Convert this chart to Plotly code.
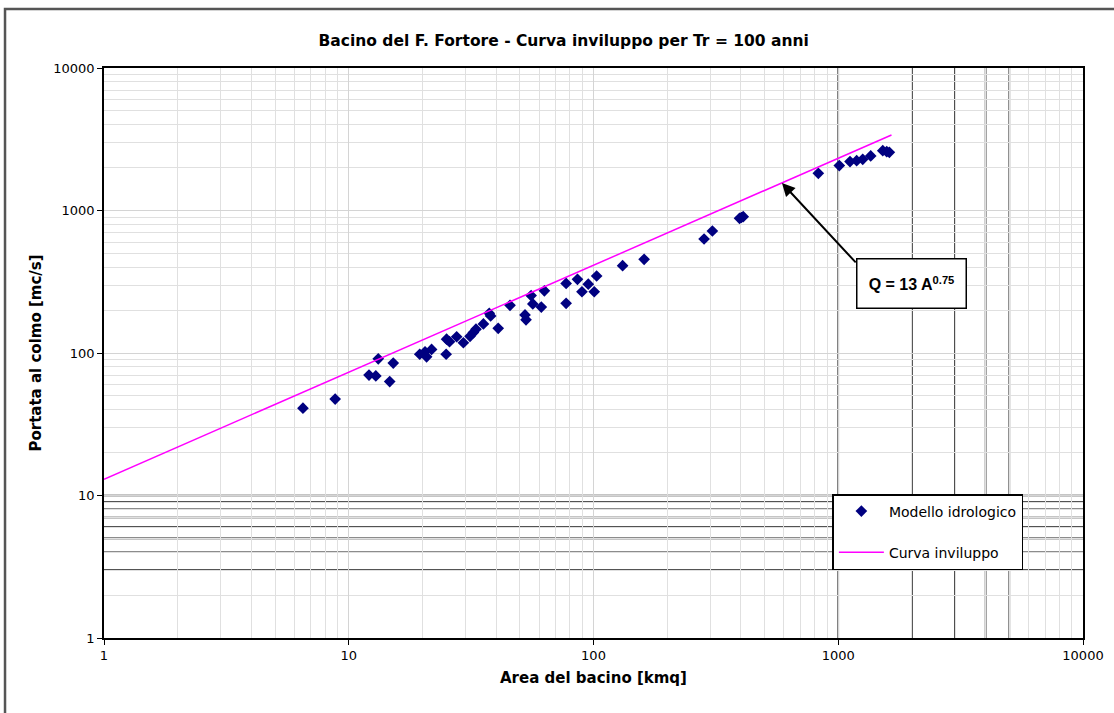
import plotly.graph_objects as go

# Catchment area [kmq] and peak discharge [mc/s]
area_kmq = [6.5, 8.8, 12.1, 12.9, 13.2, 14.7, 15.2, 19.5, 20.5, 20.8, 21.8, 25.0, 25.1,
            25.8, 27.6, 29.4, 31.3, 32.3, 33.1, 35.5, 37.5, 38.0, 40.8, 45.6, 52.5, 53.0,
            55.6, 56.5, 61.2, 63.0, 77.3, 77.3, 86.0, 89.7, 95.2, 100.7, 103.0, 131.5,
            161.0, 283.0, 306.0, 395.0, 402.0, 409.0, 829.0, 1010.0, 1117.0, 1189.0,
            1259.0, 1357.0, 1520.0, 1578.0, 1617.0]
portata_mcs = [41, 47.5, 70, 69, 91, 63, 85, 98, 102, 94, 106, 98, 125,
               120, 130, 118, 131, 139, 147, 160, 190, 182, 149, 216, 185, 171,
               253, 221, 210, 273, 308, 223, 329, 269, 304, 269, 347, 410,
               454, 631, 718, 881, 893, 905, 1824, 2065, 2203, 2238,
               2288, 2414, 2630, 2588, 2560]

# Envelope curve Q = 13 A^0.75 (end points)
curve_area = [1, 1650]
curve_q = [13, 3390]

tick_vals = [1, 10, 100, 1000, 10000]
tick_text = ["1", "10", "100", "1000", "10000"]
minor_vals = [m * 10 ** d for d in range(4) for m in range(2, 10)]
dark_x = [1000, 2000, 3000, 4000, 5000]
dark_y = [3, 4, 5, 6, 7, 8, 9, 10]

FONT = "DejaVu Sans, Verdana, sans-serif"
FONT_A = "Liberation Sans, Arial, sans-serif"

fig = go.Figure()
fig.add_trace(go.Scatter(
    x=area_kmq, y=portata_mcs, mode="markers", name="Modello idrologico",
    legendgroup="a",
    marker=dict(symbol="diamond", size=9, color="#000080"),
))
fig.add_trace(go.Scatter(
    x=curve_area, y=curve_q, mode="lines", name="Curva inviluppo",
    legendgroup="b",
    line=dict(color="#FF00FF", width=1.5),
))

shapes = []
for v in dark_x:
    shapes.append(dict(type="line", xref="x", yref="paper", x0=v, x1=v, y0=0, y1=1,
                       line=dict(color="#1a1a1a", width=1.6), layer="below"))
for v in dark_y:
    shapes.append(dict(type="line", xref="paper", yref="y", x0=0, x1=1, y0=v, y1=v,
                       line=dict(color="#1a1a1a", width=1.6), layer="below"))
# outer page frame (right and bottom edges fall outside the picture)
shapes.append(dict(type="rect", xref="paper", yref="paper",
                   x0=-0.1011, x1=1.05, y0=-0.14, y1=1.1035,
                   line=dict(color="#555555", width=2.5), layer="above"))

axis_common = dict(
    type="log", range=[0, 4], tickvals=tick_vals, ticktext=tick_text,
    showgrid=True, gridcolor="#d4d4d4", gridwidth=1,
    minor=dict(tickvals=minor_vals, showgrid=True, gridcolor="#e0e0e0", gridwidth=1, ticks=""),
    showline=True, linecolor="black", linewidth=1.5, mirror=True,
    ticks="outside", ticklen=5, tickcolor="black", tickwidth=1.2,
    tickfont=dict(family=FONT, size=13, color="black"),
    zeroline=False, automargin=False,
)

fig.update_layout(
    width=1114, height=713,
    margin=dict(l=104, r=31, t=68, b=75),
    paper_bgcolor="white", plot_bgcolor="white",
    title=dict(text="<b>Bacino del F. Fortore - Curva inviluppo per Tr = 100 anni</b>",
               x=0.506, xanchor="center", y=0.943, yanchor="middle",
               font=dict(family=FONT, size=15.5, color="black")),
    xaxis=dict(axis_common, title=dict(text="<b>Area del bacino [kmq]</b>", standoff=10,
                                       font=dict(family=FONT, size=15, color="black"))),
    yaxis=dict(axis_common, title=dict(text="<b>Portata al colmo [mc/s]</b>", standoff=8,
                                       font=dict(family=FONT, size=15, color="black"))),
    legend=dict(x=0.744, y=0.2526, xanchor="left", yanchor="top",
                bgcolor="white", bordercolor="black", borderwidth=1.5,
                font=dict(family=FONT, size=14, color="black"),
                itemwidth=45, tracegroupgap=20),
    shapes=shapes,
    showlegend=True,
)

# arrow pointing at the envelope curve
fig.add_annotation(x=2.770, y=3.193, xref="x", yref="y",
                   ax=3.077, ay=2.625, axref="x", ayref="y",
                   text="", showarrow=True, arrowhead=2, arrowsize=1.3,
                   arrowwidth=2, arrowcolor="black")
# formula box
fig.add_annotation(x=3.301, y=2.491, xref="x", yref="y",
                   text="<b>Q = 13 A<sup>0.75</sup></b>", showarrow=False,
                   font=dict(family=FONT_A, size=16, color="black"),
                   bgcolor="white", bordercolor="black", borderwidth=1.5,
                   width=106, height=46)

fig.write_html("out.html", config={"displayModeBar": False},
               post_script="document.body.style.margin='0';")
